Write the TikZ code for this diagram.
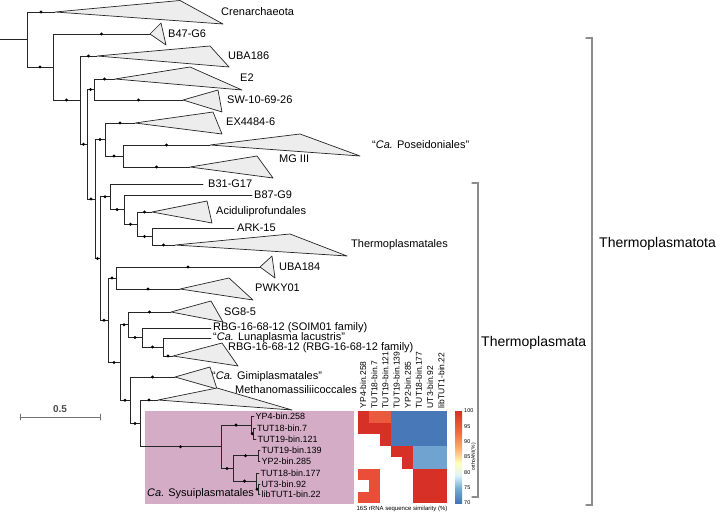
\documentclass[tikz,border=0pt]{standalone}
\usepackage{fontspec}
\setmainfont{Liberation Sans}
\definecolor{sysuicolor}{RGB}{212,172,198}
\definecolor{hmR}{RGB}{215,48,39}
\definecolor{hmP}{RGB}{233,90,62}
\definecolor{hmO}{RGB}{234,78,56}
\definecolor{hmB}{RGB}{72,120,184}
\definecolor{hmL}{RGB}{112,163,208}
\definecolor{hmW}{RGB}{255,255,255}
\definecolor{cbA}{RGB}{69,117,180}
\definecolor{cbB}{RGB}{116,173,209}
\definecolor{cbC}{RGB}{224,243,248}
\definecolor{cbD}{RGB}{255,255,191}
\definecolor{cbE}{RGB}{253,174,97}
\definecolor{cbF}{RGB}{244,109,67}
\definecolor{cbG}{RGB}{215,48,39}
\pgfdeclareverticalshading{anishade}{100bp}{color(0bp)=(cbA); color(25bp)=(cbA);
  color(33bp)=(cbB); color(40bp)=(cbC); color(46.7bp)=(cbD); color(55bp)=(cbE);
  color(63bp)=(cbF); color(75bp)=(cbG); color(100bp)=(cbG)}
\begin{document}
\begin{tikzpicture}
  [x=1pt,y=-1pt,line cap=round,
   % Styles
   branch/.style={draw=black!85,line width=0.9pt},
   support/.style={circle,fill=black,inner sep=0pt,minimum size=3.3pt},
   clade/.style={fill=black!7,draw=black!85,line width=0.7pt,line join=round},
   taxon/.style={anchor=west,inner sep=0pt,font=\fontsize{11}{13}\selectfont},
   bin/.style={anchor=west,inner sep=0pt,font=\fontsize{9}{11}\selectfont},
   group/.style={anchor=west,inner sep=0pt,font=\fontsize{14}{16}\selectfont},
   bracket/.style={draw=black!45,line width=1.2pt},
   collabel/.style={anchor=west,rotate=90,inner sep=0pt,font=\fontsize{8.5}{10}\selectfont},
   tiny text/.style={inner sep=0pt,font=\fontsize{5.5}{6}\selectfont}]

  \useasboundingbox (0,0) rectangle (720,513);

  % Background of the new order
  \fill[sysuicolor] (145,411) rectangle (354,504);

  % Tree nodes
  \foreach \n/\x/\y in {n0/27/39.5, n1/53/67, n2/80/100.1, n3/87/144.25, n4/94/89.5,
      n5/95/199, n6/105/139.5, n7/100/258.5, n8/123/156, n9/110/196.8, n10/108/320.2,
      n11/124/209.6, n12/137/224.25, n13/152/236.5, n14/116/278, n15/120/362.5,
      n16/128/324.75, n17/130/400.2, n18/142/337.5, n19/163/347, n20/140/423.4,
      n21/221/446.8, n22/251/425.1, n23/233/468.4, n24/253.5/433.75, n25/258/455.75,
      n26/256/481.1, n27/258/489.25}
    \coordinate (\n) at (\x,\y);

  % Tips
  \foreach \n/\x/\y in {cren/55/12, b47/150/34, uba186/97/56, e2/115/79, sw/183/100,
      ex/135/123, pos/210/145, mg3/190/167, b31/203/184, b87/252/195, acid/152/212,
      ark/234/228, thermo/175/245, uba184/260/267, pwky/180/289, sg85/171/312,
      soim/211/328, luna/211/338, rbg/173/356, gimi/175/377, meth/158/400,
      yp4/254/416.5, tutA/255.5/428, tutB/256/439.5, tutC/260/450, yp2/260/461.5,
      tutD/259/473, ut3/260/484, lib/260/494.5}
    \coordinate (\n) at (\x,\y);

  \coordinate (root) at (0,39.5);
  \draw[branch] (root) -- (n0);

  % Branches with support
  \foreach \p/\c in {n0/cren, n0/n1, n1/b47, n1/n2, n2/uba186, n2/n3, n3/n4, n3/n5,
      n4/e2, n4/sw, n5/n6, n5/n7, n6/ex, n6/n8, n8/pos, n8/mg3, n7/n9, n7/n10,
      n9/n11, n11/n12, n12/acid, n12/n13, n13/thermo, n10/n14, n10/n15,
      n14/uba184, n14/pwky, n15/n16, n15/n17, n16/sg85, n16/n18, n18/n19, n19/rbg,
      n17/gimi, n17/n20, n20/meth, n20/n21, n21/n22, n21/n23, n22/n24,
      n23/n25, n23/n26, n26/n27}
    \draw[branch] (\p) |- node[support,pos=.75] {} (\c);

  % Branches without support
  \foreach \p/\c in {n9/b31, n11/b87, n13/ark, n18/soim, n19/luna, n22/yp4,
      n24/tutA, n24/tutB, n25/tutC, n25/yp2, n26/tutD, n27/ut3, n27/lib}
    \draw[branch] (\p) |- (\c);

  % Collapsed clades
  \foreach \c/\tx/\ty/\bx/\by in {cren/180/0.5/223/24, b47/161/23/166/45,
      uba186/210/46/229/67, e2/190/67/242/90, sw/218/90/222/112, ex/213/112/222/134,
      pos/300/134/360/156, mg3/257/156/273/178, acid/207/201/212/223,
      thermo/290/234/347/256, uba184/272/256/275/278, pwky/229/278/253/300,
      sg85/211/301/223/322, rbg/222/343/238/366, gimi/210/367/217/389,
      meth/217/388/292/410}
    \filldraw[clade] (\c) -- (\tx,\ty) -- (\bx,\by) -- cycle;

  % Taxon labels
  \node[taxon] (lcren) at (221,12) {Crenarchaeota};
  \node[taxon] (lb47) at (168,34) {B47-G6};
  \node[taxon] (luba186) at (228,56) {UBA186};
  \node[taxon] (le2) at (240,78) {E2};
  \node[taxon] (lsw) at (227,100) {SW-10-69-26};
  \node[taxon] (lex) at (226,122) {EX4484-6};
  \node[taxon] (lpos) at (372,145) {“\textit{Ca.} Poseidoniales”};
  \node[taxon] (lmg3) at (279,159) {MG III};
  \node[taxon] (lb31) at (208,184) {B31-G17};
  \node[taxon] (lb87) at (254,195) {B87-G9};
  \node[taxon] (lacid) at (216,212) {Aciduliprofundales};
  \node[taxon] (lark) at (237,228) {ARK-15};
  \node[taxon] (lthermo) at (351,245) {Thermoplasmatales};
  \node[taxon] (luba184) at (279,267) {UBA184};
  \node[taxon] (lpwky) at (255,288) {PWKY01};
  \node[taxon] (lsg85) at (224,312) {SG8-5};
  \node[taxon] (lsoim) at (213,328) {RBG-16-68-12 (SOIM01 family)};
  \node[taxon] (lluna) at (213,338) {“\textit{Ca.} Lunaplasma lacustris”};
  \node[taxon] (lrbg) at (228,348) {RBG-16-68-12 (RBG-16-68-12 family)};
  \node[taxon] (lgimi) at (212,377) {“\textit{Ca.} Gimiplasmatales”};
  \node[taxon] (lmeth) at (235,390) {Methanomassiliicoccales};
  \node[taxon] (lsysui) at (147,494) {\textit{Ca.} Sysuiplasmatales};

  % Bin labels
  \node[bin] (lyp4) at ([xshift=1.5pt]yp4) {YP4-bin.258};
  \node[bin] (ltutA) at ([xshift=1.5pt]tutA) {TUT18-bin.7};
  \node[bin] (ltutB) at ([xshift=1.5pt]tutB) {TUT19-bin.121};
  \node[bin] (ltutC) at ([xshift=1.5pt]tutC) {TUT19-bin.139};
  \node[bin] (lyp2) at ([xshift=1.5pt]yp2) {YP2-bin.285};
  \node[bin] (ltutD) at ([xshift=1.5pt]tutD) {TUT18-bin.177};
  \node[bin] (lut3) at ([xshift=1.5pt]ut3) {UT3-bin.92};
  \node[bin] (llib) at ([xshift=1.5pt]lib) {libTUT1-bin.22};

  % Heat map
  \foreach \row [count=\i from 0] in {{R,P,P,B,B,B,B,B},{R,R,R,B,B,B,B,B},
      {W,W,R,B,B,B,B,B},{W,W,W,R,R,L,L,L},{W,W,W,W,R,L,L,L},
      {O,O,W,W,W,R,R,R},{W,O,W,W,W,R,R,R},{O,O,W,W,W,R,R,R}}
    \foreach \cell [count=\j from 0] in \row
      \fill[hm\cell] (357.5+\j*11.17,411+\i*11.5) rectangle ++(11.17,11.5);

  \foreach \b [count=\j from 0] in {YP4-bin.258, TUT18-bin.7, TUT19-bin.121,
      TUT19-bin.139, YP2-bin.285, TUT18-bin.177, UT3-bin.92, libTUT1-bin.22}
    \node[collabel] (col\j) at (363.1+\j*11.17,408.5) {\b};

  \node[tiny text,font=\fontsize{6}{7}\selectfont] (simtitle) at (402,508.5)
    {16S rRNA sequence similarity (\%)};

  % Colour bar
  \shade[shading=anishade] (455,411) rectangle (462,503);
  \foreach \v [count=\k from 0] in {100,95,90,85,80,75,70}
    \node[tiny text,anchor=west] (tick\v) at (464,411+\k*15.33) {\v};
  \node[tiny text,rotate=90,font=\fontsize{5}{6}\selectfont] (anititle) at (473.5,457)
    {orthoANI(\%)};

  % Scale bar
  \draw[draw=black!55,line width=0.8pt] (20,417) -- (100,417);
  \draw[draw=black!55,line width=0.8pt] (20,414) -- (20,420) (100,414) -- (100,420);
  \node[inner sep=0pt,text=black!70,font=\fontsize{10}{12}\selectfont\bfseries]
    (scale) at (60,409.5) {0.5};

  % Group brackets
  \draw[bracket] (472,183) -- (478,183) -- (478,497) -- (472,497);
  \node[group] (lplasmata) at (481,343) {Thermoplasmata};
  \draw[bracket] (586,38) -- (592,38) -- (592,505) -- (586,505);
  \node[group] (lplasmatota) at (599,244) {Thermoplasmatota};
\end{tikzpicture}
\end{document}
